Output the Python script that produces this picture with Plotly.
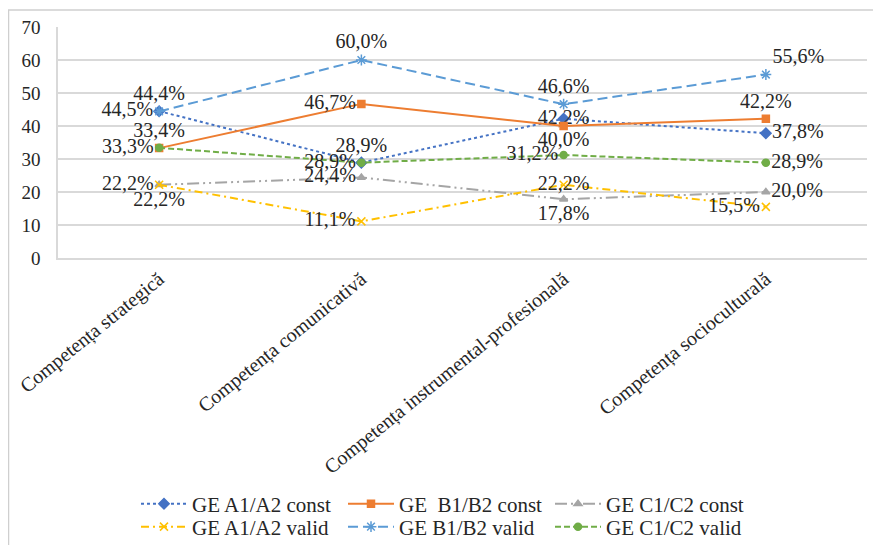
import plotly.graph_objects as go

categories = ["Competența strategică", "Competența comunicativă",
              "Competența instrumental-profesională", "Competența socioculturală"]

a1_const = [44.5, 28.9, 42.2, 37.8]
b1_const = [33.3, 46.7, 40.0, 42.2]
c1_const = [22.2, 24.4, 17.8, 20.0]
a1_valid = [22.2, 11.1, 22.2, 15.5]
b1_valid = [44.4, 60.0, 46.6, 55.6]
c1_valid = [33.4, 28.9, 31.2, 28.9]

y_ticks = [0, 10, 20, 30, 40, 50, 60, 70]

series = [
    dict(name="GE A1/A2 const", y=a1_const, color="#4472C4", dash="dot", symbol="diamond", size=8,
         pos=["middle left", "top center", "middle center", "middle right"], legend="legend"),
    dict(name="GE\u00a0 B1/B2 const", y=b1_const, color="#ED7D31", dash="solid", symbol="square", size=7,
         pos=["middle left", "middle left", "bottom center", "top center"], legend="legend"),
    dict(name="GE C1/C2 const", y=c1_const, color="#A5A5A5", dash="12px,4px,2px,4px,2px,4px", symbol="triangle-up", size=7,
         pos=["middle left", "middle left", "bottom center", "middle right"], legend="legend"),
    dict(name="GE A1/A2 valid", y=a1_valid, color="#FFC000", dash="8px,4px,2px,4px", symbol="x-thin-open", size=8,
         pos=["bottom center", "middle left", "middle center", "middle left"], legend="legend2"),
    dict(name="GE B1/B2 valid", y=b1_valid, color="#5B9BD5", dash="10px,5px", symbol="asterisk-open", size=9,
         pos=["top center", "top center", "top center", "top right"], legend="legend2"),
    dict(name="GE C1/C2 valid", y=c1_valid, color="#70AD47", dash="6px,3px", symbol="circle", size=7,
         pos=["top center", "middle left", "middle left", "middle right"], legend="legend2"),
]

FONT = "Liberation Serif, Times New Roman, serif"

fig = go.Figure()
for s in series:
    fig.add_trace(go.Scatter(
        x=categories, y=s["y"], name=s["name"], mode="lines+markers+text",
        line=dict(color=s["color"], width=2, dash=s["dash"]),
        marker=dict(symbol=s["symbol"], size=s["size"], color=s["color"],
                    line=dict(color=s["color"], width=1.5)),
        text=[f"{v:.1f}%".replace(".", ",") for v in s["y"]],
        textposition=s["pos"],
        textfont=dict(family=FONT, size=20, color="#262626"),
        legend=s["legend"],
        cliponaxis=False,
    ))

# the page body adds an 8 px offset; work in screen pixels and subtract it
OFF = 8
W, H = 881 - OFF, 545 - OFF
ml = 58 - OFF
mt = 27 - OFF
mr = W - (867 - OFF)
mb = H - (258 - OFF)
pw = W - ml - mr
ph = H - mt - mb

def px_x(p):
    return (p - OFF - ml) / pw

def px_y(p):
    return (H - mb - (p - OFF)) / ph

fig.add_shape(type="rect", xref="paper", yref="paper",
              x0=px_x(8.5), x1=px_x(878), y0=px_y(10), y1=px_y(570),
              line=dict(color="#CFCFCF", width=1.5), fillcolor="rgba(0,0,0,0)", layer="below")

legend_common = dict(orientation="h", xanchor="left", yanchor="middle",
                     xref="container", yref="container",
                     font=dict(family=FONT, size=21, color="#262626"),
                     bgcolor="rgba(0,0,0,0)", itemwidth=46, entrywidth=146,
                     tracegroupgap=0)

fig.update_layout(
    width=W, height=H,
    margin=dict(l=ml, r=mr, t=mt, b=mb, autoexpand=False),
    paper_bgcolor="white", plot_bgcolor="white",
    showlegend=True,
    legend=dict(x=(136 - OFF) / W, y=1 - (504 - OFF) / H, **legend_common),
    legend2=dict(x=(136 - OFF) / W, y=1 - (527 - OFF) / H, **legend_common),
    xaxis=dict(type="category", tickangle=-39, showgrid=False, automargin=False,
               showline=True, linecolor="#D9D9D9", linewidth=1.5,
               tickfont=dict(family=FONT, size=20, color="#262626"),
               ticks="", range=[-0.5, 3.5]),
    yaxis=dict(range=[0, 70], tickvals=y_ticks, showgrid=True, gridcolor="#D9D9D9", gridwidth=1.5,
               showline=True, linecolor="#D9D9D9", linewidth=1.5, zeroline=False, automargin=False,
               tickfont=dict(family=FONT, size=19, color="#262626"),
               ticks="", ticklabelstandoff=12),
)

fig.write_html("out.html")
